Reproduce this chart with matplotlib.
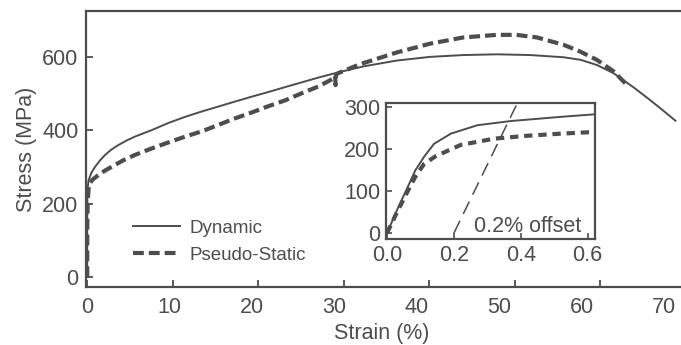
import numpy as np
import matplotlib.pyplot as plt

plt.rcParams['font.family'] = ['Liberation Sans', 'DejaVu Sans']

# main curves: strain (%) vs stress (MPa)
dyn_strain = [0.0, 0.0, 0.03, 0.16, 0.5, 0.94, 1.5, 2.1, 2.8, 3.66, 4.6, 5.6, 7.6, 9.5, 11.5,
              13.5, 15.4, 17.1, 19.3, 21.0, 23.2, 25.0, 27.1, 29.4, 32.3, 36.2, 40.1, 44.0,
              47.9, 51.8, 55.7, 57.7, 59.6, 61.6, 63.1, 63.9, 65.8, 67.3, 68.8]
dyn_stress = [0, 150, 235, 264, 285, 301, 318, 333, 347, 360, 372, 383, 401, 420, 437,
              452, 465, 477, 492, 503, 518, 530, 544, 558, 574, 590, 600, 605,
              607, 605, 599, 592, 578, 555, 530, 517, 483, 455, 426]

ps_strain = [0.0, 0.0, 0.05, 0.2, 0.6, 1.3, 2.0, 2.9, 4.2, 5.6, 7.6, 9.5, 11.5, 13.5, 15.4,
             17.1, 19.3, 21.0, 23.2, 24.9, 27.1, 28.7, 29.0, 29.05, 29.1, 29.4, 31.9, 36.2,
             40.1, 44.0, 47.9, 50.2, 52.6, 55.7, 57.7, 59.6, 61.6, 63.1]
ps_stress = [0, 120, 205, 251, 265, 278, 289, 301, 318, 333, 351, 367, 383, 398, 415,
             431, 449, 464, 482, 499, 520, 540, 548, 523, 552, 556, 580, 612,
             636, 653, 660, 660, 653, 633, 614, 592, 560, 524]

# inset: small strain region
in_dyn_strain = [0.0, 0.03, 0.062, 0.085, 0.111, 0.141, 0.191, 0.27, 0.37, 0.52, 0.62]
in_dyn_stress = [0, 55, 110, 150, 182, 213, 237, 257, 267, 277, 283]
in_ps_strain = [0.0, 0.03, 0.062, 0.085, 0.111, 0.145, 0.181, 0.22, 0.32, 0.42, 0.52, 0.62]
in_ps_stress = [0, 50, 100, 135, 165, 183, 196, 210, 225, 232, 237, 241]
offset_strain = [0.2, 0.39]
offset_stress = [0, 310]

x_ticks = [0, 10, 20, 30, 40, 50, 60, 70]
x_tick_labels = ['0', '10', '20', '30', '40', '50', '60', '70']

grey = '#4d4d4d'
fs = 15.5

fig = plt.figure(figsize=(6.81, 3.45), dpi=100)
ax = fig.add_axes([85.5/681, 58/345, 74.3*8.55/681, 276/345])

ax.plot(dyn_strain, dyn_stress, color=grey, lw=1.4, label='Dynamic')
ax.plot(ps_strain, ps_stress, color=grey, lw=3.0, dashes=(2.6, 1.2), label='Pseudo-Static')
ax.set_xlim(-0.2, 74.1)
ax.set_ylim(-27, 725)
ax.set_xticks(x_ticks)
ax.set_xticklabels([])
# tick labels in the original sit slightly left of their ticks
for v, lab in zip(x_ticks, x_tick_labels):
    ax.annotate(lab, xy=(v * 0.964, 0), xycoords=('data', 'axes fraction'),
                xytext=(0, -14.5), textcoords='offset points',
                ha='center', va='center', fontsize=fs, color=grey)
ax.set_yticks([0, 200, 400, 600])
ax.set_xlabel('Strain (%)', fontsize=fs, color=grey, labelpad=21, x=0.467)
ax.set_ylabel('Stress (MPa)', fontsize=fs, color=grey, labelpad=4)
ax.tick_params(direction='in', length=5, width=1.3, colors=grey, labelsize=fs, pad=5)
for s in ax.spines.values():
    s.set_color(grey)
    s.set_linewidth(1.6)

leg = ax.legend(loc='lower left', bbox_to_anchor=(0.075, 0.085), frameon=False,
                borderpad=0, borderaxespad=0,
                fontsize=13.5, handlelength=2.5, handletextpad=0.5, labelspacing=0.5)
for t in leg.get_texts():
    t.set_color(grey)

# inset
ins = fig.add_axes([386/681, (345-239)/345, 209/681, 136/345])
ins.plot(in_dyn_strain, in_dyn_stress, color=grey, lw=1.4)
ins.plot(in_ps_strain, in_ps_stress, color=grey, lw=3.0, dashes=(2.0, 1.4))
ins.plot(offset_strain, offset_stress, color=grey, lw=1.1, dashes=(9, 5))
ins.set_xlim(-0.003, 0.622)
ins.set_ylim(-14, 310)
ins.set_xticks([0.0, 0.2, 0.4, 0.6])
ins.set_xticklabels(['0.0', '0.2', '0.4', '0.6'])
ins.set_yticks([0, 100, 200, 300])
ins.tick_params(direction='in', length=4, width=1.2, colors=grey, labelsize=fs, pad=4)
for s in ins.spines.values():
    s.set_color(grey)
    s.set_linewidth(1.6)
ins.text(0.58, 15, '0.2% offset', fontsize=fs, color=grey, ha='right', va='center')

fig.savefig('out.png', dpi=100)
